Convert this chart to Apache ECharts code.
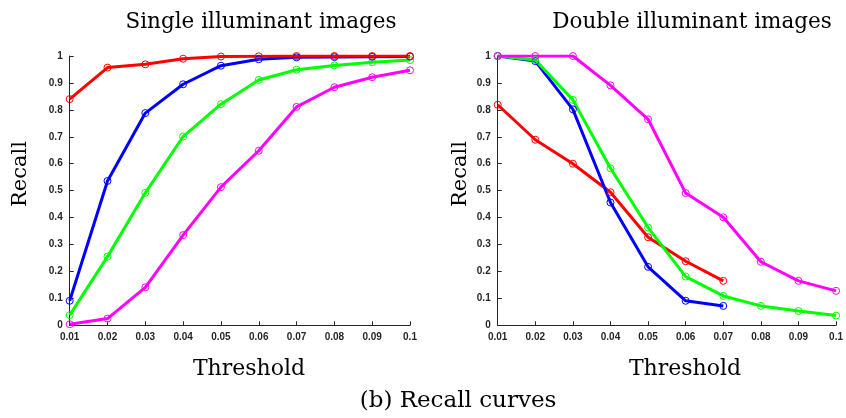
<!DOCTYPE html>
<html>
<head>
<meta charset="utf-8">
<script src="https://cdn.jsdelivr.net/npm/echarts@6/dist/echarts.min.js"></script>
<style>
html,body{margin:0;padding:0;background:#fff;}
#chart{width:846px;height:418px;}
</style>
</head>
<body>
<div id="chart"></div>
<script>
// Data
const thresholds = ["0.01","0.02","0.03","0.04","0.05","0.06","0.07","0.08","0.09","0.1"];
const yTicks = [0,0.1,0.2,0.3,0.4,0.5,0.6,0.7,0.8,0.9,1];

// Single illuminant images
const singleRed     = [0.84, 0.957, 0.969, 0.99, 0.998, 0.999, 1.0, 1.0, 1.0, 1.0];
const singleBlue    = [0.091, 0.536, 0.788, 0.895, 0.964, 0.988, 0.995, 0.996, 0.997, 0.998];
const singleGreen   = [0.038, 0.255, 0.492, 0.701, 0.821, 0.911, 0.949, 0.965, 0.977, 0.985];
const singleMagenta = [0.004, 0.025, 0.141, 0.335, 0.513, 0.648, 0.811, 0.884, 0.921, 0.947];

// Double illuminant images
const doubleRed     = [0.819, 0.689, 0.6, 0.494, 0.327, 0.238, 0.165];
const doubleBlue    = [1.0, 0.981, 0.802, 0.456, 0.217, 0.091, 0.072];
const doubleGreen   = [1.0, 0.985, 0.837, 0.583, 0.363, 0.181, 0.109, 0.072, 0.053, 0.036];
const doubleMagenta = [1.0, 1.0, 1.0, 0.891, 0.765, 0.491, 0.401, 0.236, 0.165, 0.128];

const colors = {red:'#ff0000', blue:'#0000ff', green:'#00ff00', magenta:'#ff00ff'};

function mkSeries(data, color, idx){
  return {
    type:'line', data:data, xAxisIndex:idx, yAxisIndex:idx,
    symbol:'circle', symbolSize:7, showSymbol:true,
    lineStyle:{color:color, width:3},
    itemStyle:{color:'rgba(0,0,0,0)', borderColor:color, borderWidth:1},
    emphasis:{disabled:true}, animation:false, z:2
  };
}

const axisColor = '#262626';
function mkX(idx){
  return {
    type:'category', gridIndex:idx, data:thresholds, boundaryGap:false,
    axisLine:{show:true, lineStyle:{color:axisColor, width:1}},
    axisTick:{show:true, inside:true, length:4, alignWithLabel:true, lineStyle:{color:axisColor}},
    axisLabel:{color:axisColor, fontFamily:'Liberation Sans', fontWeight:'bold', fontSize:10, margin:7, interval:0},
    splitLine:{show:false}
  };
}
function mkY(idx){
  return {
    type:'value', gridIndex:idx, min:0, max:1, interval:0.1,
    axisLine:{show:true, lineStyle:{color:axisColor, width:1}},
    axisTick:{show:true, inside:true, length:4, lineStyle:{color:axisColor}},
    axisLabel:{color:axisColor, fontFamily:'Liberation Sans', fontWeight:'bold', fontSize:10, margin:7,
      formatter:function(v){ return String(Math.round(v*10)/10); }},
    splitLine:{show:false}
  };
}

const serif = 'DejaVu Serif';
function txt(x,y,s,size,rot){
  return {type:'text', x:x, y:y, rotation:rot||0,
    style:{text:s, fontFamily:serif, fontSize:size, fill:'#000', textAlign:'center', textVerticalAlign:'middle'}};
}

const chart = echarts.init(document.getElementById('chart'), null, {renderer:'canvas'});
chart.setOption({
  backgroundColor:'#fff',
  animation:false,
  grid:[
    {left:69.7, right:436, top:56, bottom:92.7, containLabel:false},
    {left:497.7, right:7, top:56, bottom:92.7, containLabel:false}
  ],
  xAxis:[mkX(0), mkX(1)],
  yAxis:[mkY(0), mkY(1)],
  series:[
    mkSeries(singleMagenta, colors.magenta, 0),
    mkSeries(singleGreen, colors.green, 0),
    mkSeries(singleBlue, colors.blue, 0),
    mkSeries(singleRed, colors.red, 0),
    mkSeries(doubleRed, colors.red, 1),
    mkSeries(doubleBlue, colors.blue, 1),
    mkSeries(doubleGreen, colors.green, 1),
    mkSeries(doubleMagenta, colors.magenta, 1)
  ],
  graphic:[
    txt(261, 22, 'Single illuminant images', 21.5),
    txt(692, 22, 'Double illuminant images', 21.5),
    txt(21, 174, 'Recall', 21, Math.PI/2),
    txt(461, 174, 'Recall', 21, Math.PI/2),
    txt(249, 369, 'Threshold', 22),
    txt(685, 369, 'Threshold', 22),
    txt(458, 401, '(b) Recall curves', 23)
  ]
});
</script>
</body>
</html>
